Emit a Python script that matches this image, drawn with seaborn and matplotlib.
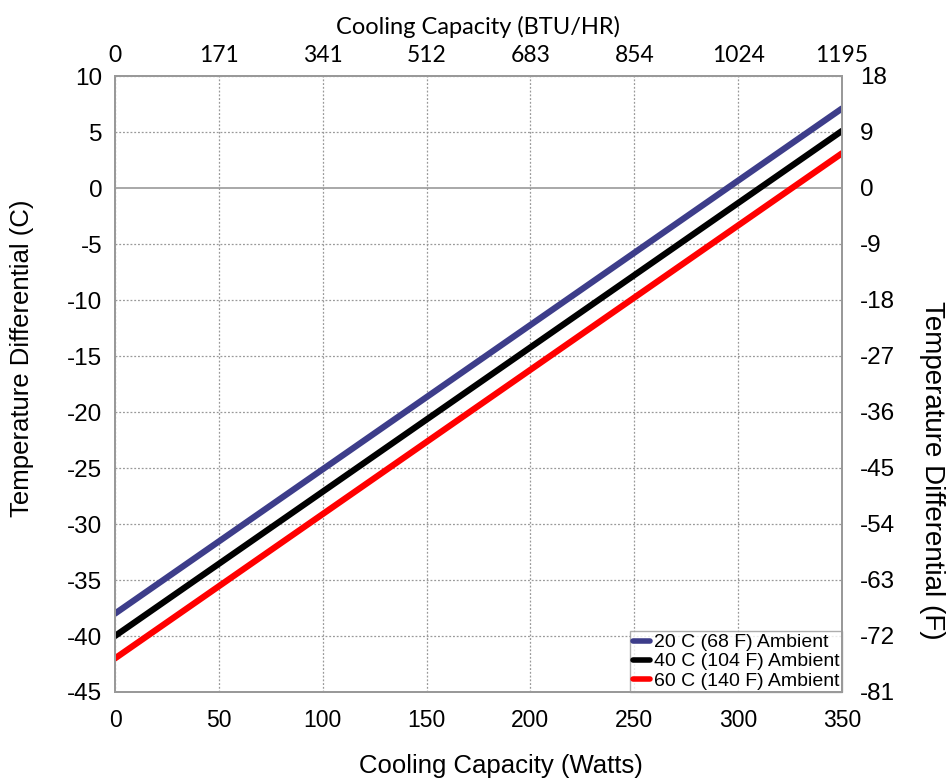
import matplotlib
matplotlib.use("Agg")
import matplotlib.pyplot as plt
import seaborn as sns
import pandas as pd
import numpy as np

watts = [0, 350]
blue_vals = [-38.0, 7.1]
black_vals = [-40.0, 5.1]
red_vals = [-42.0, 3.1]
series_names = ["20 C (68 F) Ambient", "40 C (104 F) Ambient", "60 C (140 F) Ambient"]
colors = ["#3d3d8a", "#000000", "#ff0000"]
x_ticks = [0, 50, 100, 150, 200, 250, 300, 350]
btu_labels = ["0", "171", "341", "512", "683", "854", "1024", "1195"]
y_ticks = [10, 5, 0, -5, -10, -15, -20, -25, -30, -35, -40, -45]
f_labels = ["18", "9", "0", "-9", "-18", "-27", "-36", "-45", "-54", "-63", "-72", "-81"]

sns.set_theme(style="white")
plt.rcParams['font.family'] = ['Liberation Sans', 'DejaVu Sans']
plt.rcParams['axes.unicode_minus'] = False
plt.rcParams['text.color'] = 'black'
plt.rcParams['axes.labelcolor'] = 'black'
plt.rcParams['xtick.color'] = 'black'
plt.rcParams['ytick.color'] = 'black'

df = pd.concat([
    pd.DataFrame({"W": watts, "T": v, "Series": n})
    for v, n in zip([blue_vals, black_vals, red_vals], series_names)
])

fig = plt.figure(figsize=(9.51, 7.82), dpi=100)
ax = fig.add_axes([115/951, 1-692/782, (842-115)/951, (692-76)/782])

for v in y_ticks:
    if v != 0:
        ax.axhline(v, color="#999999", lw=0.9, ls=(0, (1.5, 1.5)), zorder=0)
for x in x_ticks:
    ax.axvline(x, color="#999999", lw=0.9, ls=(0, (1.5, 1.5)), zorder=0)
ax.axhline(0, color="#999999", lw=1.2, zorder=0)

sns.lineplot(data=df, x="W", y="T", hue="Series", palette=colors, lw=4.5, ax=ax,
             legend=True)

ax.set_xlim(0, 350)
ax.set_ylim(-45, 10)
ax.set_xticks(x_ticks)
ax.set_yticks(y_ticks)
ax.tick_params(axis="x", labelsize=16.5, length=0, pad=12)
ax.tick_params(axis="y", labelsize=17.5, length=0, pad=9)
ax.set_xlabel("Cooling Capacity (Watts)", fontsize=18.5, labelpad=14)
ax.xaxis.set_label_coords((501-115)/727, -(773-692)/616 + 0.0, transform=ax.transAxes)
ax.xaxis.label.set_va("baseline")
ax.set_ylabel("Temperature Differential (C)", fontsize=18.5)
ax.yaxis.set_label_coords(-(115-22)/727, (692-358)/616, transform=ax.transAxes)
ax.yaxis.label.set_va("center")
for s in ax.spines.values():
    s.set_color("#999999")
    s.set_linewidth(1.2)

ax_top = ax.twiny()
ax_top.set_xlim(ax.get_xlim())
ax_top.set_xticks(x_ticks)
ax_top.set_xticklabels(btu_labels, fontfamily=["Lato", "DejaVu Sans"])
ax_top.tick_params(labelsize=16.5, length=0, pad=7)
ax_top.set_xlabel("Cooling Capacity (BTU/HR)", fontsize=17, labelpad=8,
                  fontfamily=["Lato", "DejaVu Sans"])

ax_r = ax.twinx()
ax_r.set_ylim(ax.get_ylim())
ax_r.set_yticks(y_ticks)
ax_r.set_yticklabels(f_labels)
ax_r.tick_params(labelsize=17.5, length=0, pad=13)
ax_r.set_ylabel("Temperature Differential (F)", fontsize=20, rotation=270)
ax_r.yaxis.set_label_coords((932-115)/727, (692-470)/616, transform=ax.transAxes)
ax_r.yaxis.label.set_va("center")
ax_r.yaxis.label.set_ha("center")
for a in (ax_top, ax_r):
    for s in a.spines.values():
        s.set_color("#999999")
        s.set_linewidth(1.2)

leg = ax.legend(loc="lower right", fontsize=14, frameon=True, fancybox=False,
                handlelength=0.9, handletextpad=0.2, borderpad=0.12,
                labelspacing=0.08, borderaxespad=0.0)
leg.get_frame().set_edgecolor("#999999")
leg.get_frame().set_linewidth(1.0)
for h in leg.get_lines():
    h.set_linewidth(4)

fig.savefig("out.png", dpi=100)
